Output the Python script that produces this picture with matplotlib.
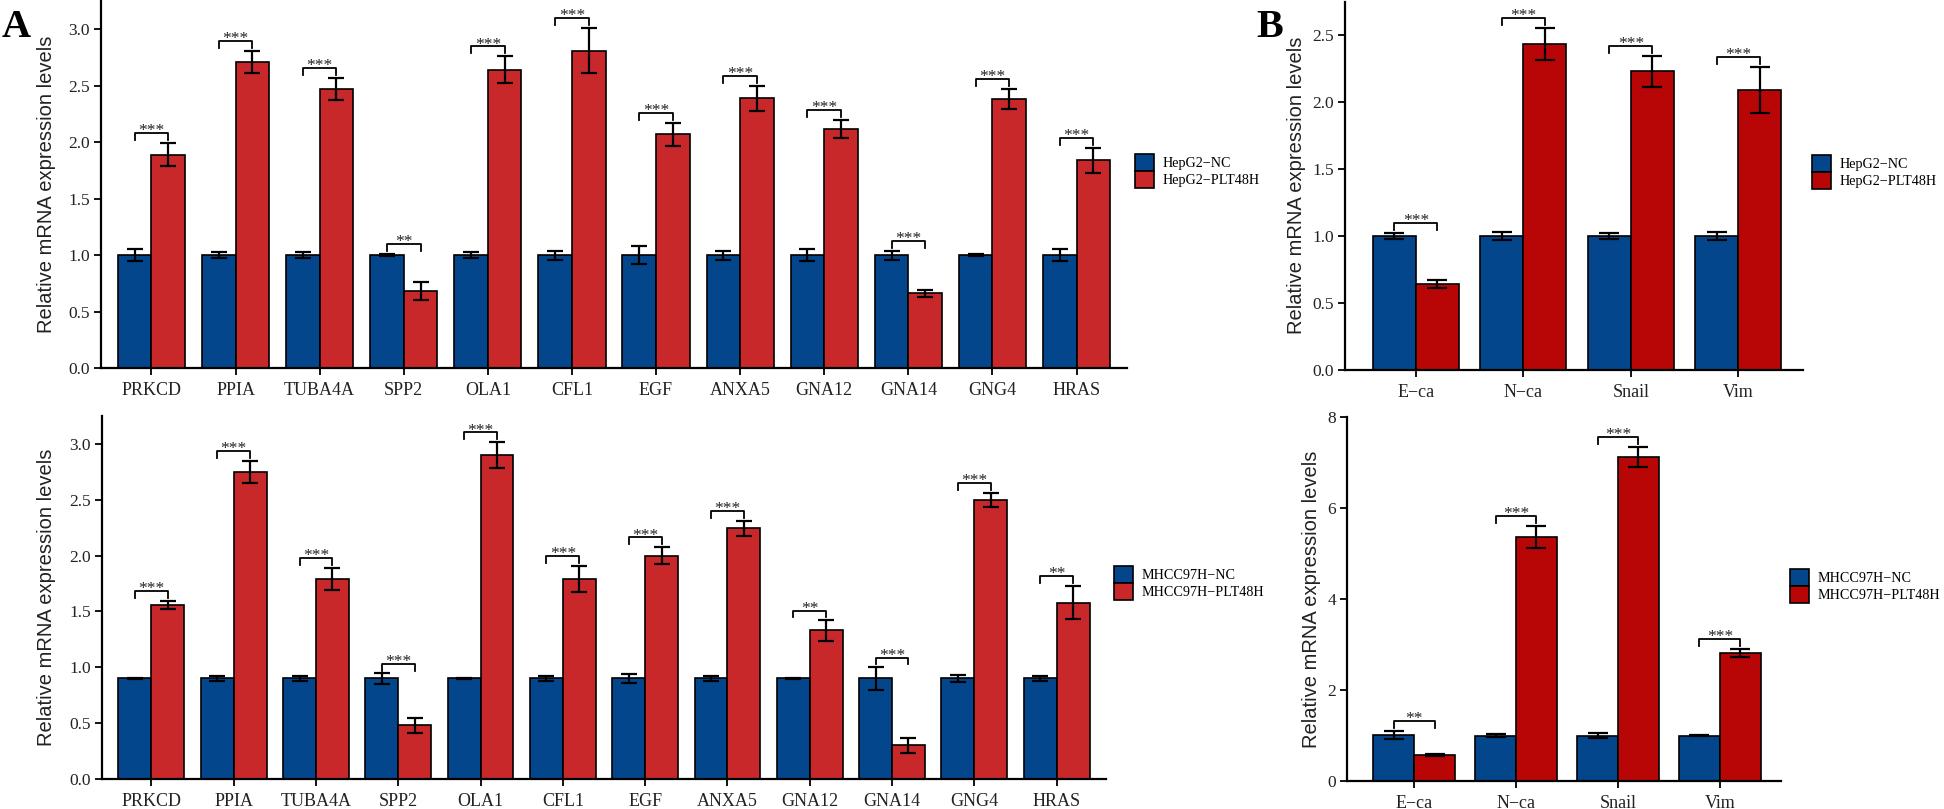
import numpy as np
import matplotlib
matplotlib.use('Agg')
import matplotlib.pyplot as plt

# Datos (expresion relativa de mRNA)
genes_a = ['PRKCD', 'PPIA', 'TUBA4A', 'SPP2', 'OLA1', 'CFL1', 'EGF', 'ANXA5', 'GNA12', 'GNA14', 'GNG4', 'HRAS']

hep_nc = [1.0, 1.0, 1.0, 1.0, 1.0, 1.0, 1.0, 1.0, 1.0, 1.0, 1.0, 1.0]
hep_nc_err = [0.05, 0.03, 0.03, 0.01, 0.03, 0.04, 0.08, 0.04, 0.05, 0.04, 0.01, 0.05]
hep_plt = [1.89, 2.71, 2.47, 0.68, 2.64, 2.81, 2.07, 2.39, 2.12, 0.66, 2.38, 1.84]
hep_plt_err = [0.10, 0.10, 0.10, 0.08, 0.12, 0.20, 0.10, 0.11, 0.08, 0.03, 0.09, 0.11]
hep_sig = ['***', '***', '***', '**', '***', '***', '***', '***', '***', '***', '***', '***']

mh_nc = [0.9, 0.9, 0.9, 0.9, 0.9, 0.9, 0.9, 0.9, 0.9, 0.9, 0.9, 0.9]
mh_nc_err = [0.005, 0.02, 0.025, 0.045, 0.005, 0.025, 0.04, 0.02, 0.005, 0.10, 0.028, 0.02]
mh_plt = [1.56, 2.75, 1.79, 0.48, 2.90, 1.79, 2.00, 2.245, 1.33, 0.30, 2.50, 1.58]
mh_plt_err = [0.035, 0.10, 0.10, 0.07, 0.115, 0.12, 0.075, 0.065, 0.09, 0.063, 0.065, 0.15]
mh_sig = ['***', '***', '***', '***', '***', '***', '***', '***', '**', '***', '***', '**']

genes_b = ['E\u2212ca', 'N\u2212ca', 'Snail', 'Vim']

hep_emt_nc = [1.0, 1.0, 1.0, 1.0]
hep_emt_nc_err = [0.025, 0.03, 0.02, 0.03]
hep_emt_plt = [0.64, 2.43, 2.23, 2.09]
hep_emt_plt_err = [0.03, 0.12, 0.115, 0.17]
hep_emt_sig = ['***', '***', '***', '***']

mh_emt_nc = [1.01, 1.0, 1.0, 1.0]
mh_emt_nc_err = [0.09, 0.035, 0.055, 0.01]
mh_emt_plt = [0.57, 5.37, 7.12, 2.81]
mh_emt_plt_err = [0.03, 0.24, 0.22, 0.09]
mh_emt_sig = ['**', '***', '***', '***']

# Colores
azul = '#03468c'
rojo_a = '#c8282a'
rojo_b = '#b80606'
serif = 'Liberation Serif'
sans = 'Liberation Sans'

W, H = 1944, 809
fig = plt.figure(figsize=(W / 100, H / 100), dpi=100)


def px_axes(left, right, top, bottom):
    # Convierte pixeles (origen arriba-izquierda) a coordenadas de figura
    return fig.add_axes([left / W, 1 - bottom / H, (right - left) / W, (bottom - top) / H])


# Funcion para dibujar un panel de barras agrupadas con errores y significancia
def panel(ax, genes, nc, nc_err, trat, trat_err, sig, rojo, ymax, yticks, ytlabels,
          xlim, capsize, labels, leg_pos, ylab_x):
    x = np.arange(len(genes))
    w = 0.4
    ax.bar(x - w / 2, nc, w, color=azul, edgecolor='black', linewidth=1.2, label=labels[0], zorder=2)
    ax.bar(x + w / 2, trat, w, color=rojo, edgecolor='black', linewidth=1.2, label=labels[1], zorder=2)
    ax.errorbar(x - w / 2, nc, yerr=nc_err, fmt='none', ecolor='black', elinewidth=1.6,
                capsize=capsize, capthick=1.6, zorder=3)
    ax.errorbar(x + w / 2, trat, yerr=trat_err, fmt='none', ecolor='black', elinewidth=1.6,
                capsize=capsize, capthick=1.6, zorder=3)

    # Corchetes de significancia
    off = 0.027 * ymax
    tick = 0.019 * ymax
    for i in range(len(genes)):
        top = max(nc[i] + nc_err[i], trat[i] + trat_err[i]) + off
        ax.plot([x[i] - w / 2, x[i] - w / 2, x[i] + w / 2, x[i] + w / 2],
                [top - tick, top, top, top - tick], color='black', lw=1.3, zorder=3,
                clip_on=False)
        ax.annotate(sig[i], xy=(x[i], top), xytext=(0, -1.5), textcoords='offset points',
                    ha='center', va='baseline', fontsize=12.5, family=serif, color='#222222')

    ax.set_xlim(*xlim)
    ax.set_ylim(0, ymax)
    ax.set_xticks(x)
    ax.set_xticklabels(genes, fontsize=13, family=serif, color='#222222')
    ax.set_yticks(yticks)
    ax.set_yticklabels(ytlabels, fontsize=12.5, family=serif, color='#222222')
    for s in ['top', 'right']:
        ax.spines[s].set_visible(False)
    for s in ['left', 'bottom']:
        ax.spines[s].set_linewidth(1.6)
    ax.tick_params(axis='both', direction='out', length=5, width=1.3, pad=3)
    ax.tick_params(axis='x', pad=5)
    ax.set_ylabel('Relative mRNA expression levels', fontsize=14.5, family=sans, color='#222222')
    ax.yaxis.set_label_coords(ylab_x, 0.5)

    ax.legend(loc='center left', bbox_to_anchor=(leg_pos[0] / W, 1 - leg_pos[1] / H),
              bbox_transform=fig.transFigure, frameon=False, borderpad=0, borderaxespad=0,
              handlelength=1.35, handleheight=1.45, labelspacing=0.05, handletextpad=0.6,
              prop={'family': serif, 'size': 10.2})


ax1 = px_axes(101, 1127, 1, 368)
panel(ax1, genes_a, hep_nc, hep_nc_err, hep_plt, hep_plt_err, hep_sig, rojo_a, 3.25,
      [0, 0.5, 1, 1.5, 2, 2.5, 3], ['0.0', '0.5', '1.0', '1.5', '2.0', '2.5', '3.0'],
      (-0.6, 11.6), 6, ['HepG2\u2212NC', 'HepG2\u2212PLT48H'], (1135, 171), -0.044)

ax2 = px_axes(102, 1106, 416, 779)
panel(ax2, genes_a, mh_nc, mh_nc_err, mh_plt, mh_plt_err, mh_sig, rojo_a, 3.25,
      [0, 0.5, 1, 1.5, 2, 2.5, 3], ['0.0', '0.5', '1.0', '1.5', '2.0', '2.5', '3.0'],
      (-0.6, 11.6), 6, ['MHCC97H\u2212NC', 'MHCC97H\u2212PLT48H'], (1114, 583), -0.046)

ax3 = px_axes(1345, 1803, 1.5, 370)
panel(ax3, genes_b, hep_emt_nc, hep_emt_nc_err, hep_emt_plt, hep_emt_plt_err, hep_emt_sig, rojo_b, 2.75,
      [0, 0.5, 1, 1.5, 2, 2.5], ['0.0', '0.5', '1.0', '1.5', '2.0', '2.5'],
      (-0.66, 3.6), 7, ['HepG2\u2212NC', 'HepG2\u2212PLT48H'], (1812, 172), -0.085)

ax4 = px_axes(1347, 1781, 417, 781)
panel(ax4, genes_b, mh_emt_nc, mh_emt_nc_err, mh_emt_plt, mh_emt_plt_err, mh_emt_sig, rojo_b, 8,
      [0, 2, 4, 6, 8], ['0', '2', '4', '6', '8'],
      (-0.66, 3.6), 7, ['MHCC97H\u2212NC', 'MHCC97H\u2212PLT48H'], (1790, 586), -0.06)

# Letras de los paneles
fig.text(2 / W, 1 - 37 / H, 'A', fontsize=29, fontweight='bold', family=serif, va='baseline')
fig.text(1256 / W, 1 - 37 / H, 'B', fontsize=29, fontweight='bold', family=serif, va='baseline')

fig.savefig('out.png', dpi=100)
